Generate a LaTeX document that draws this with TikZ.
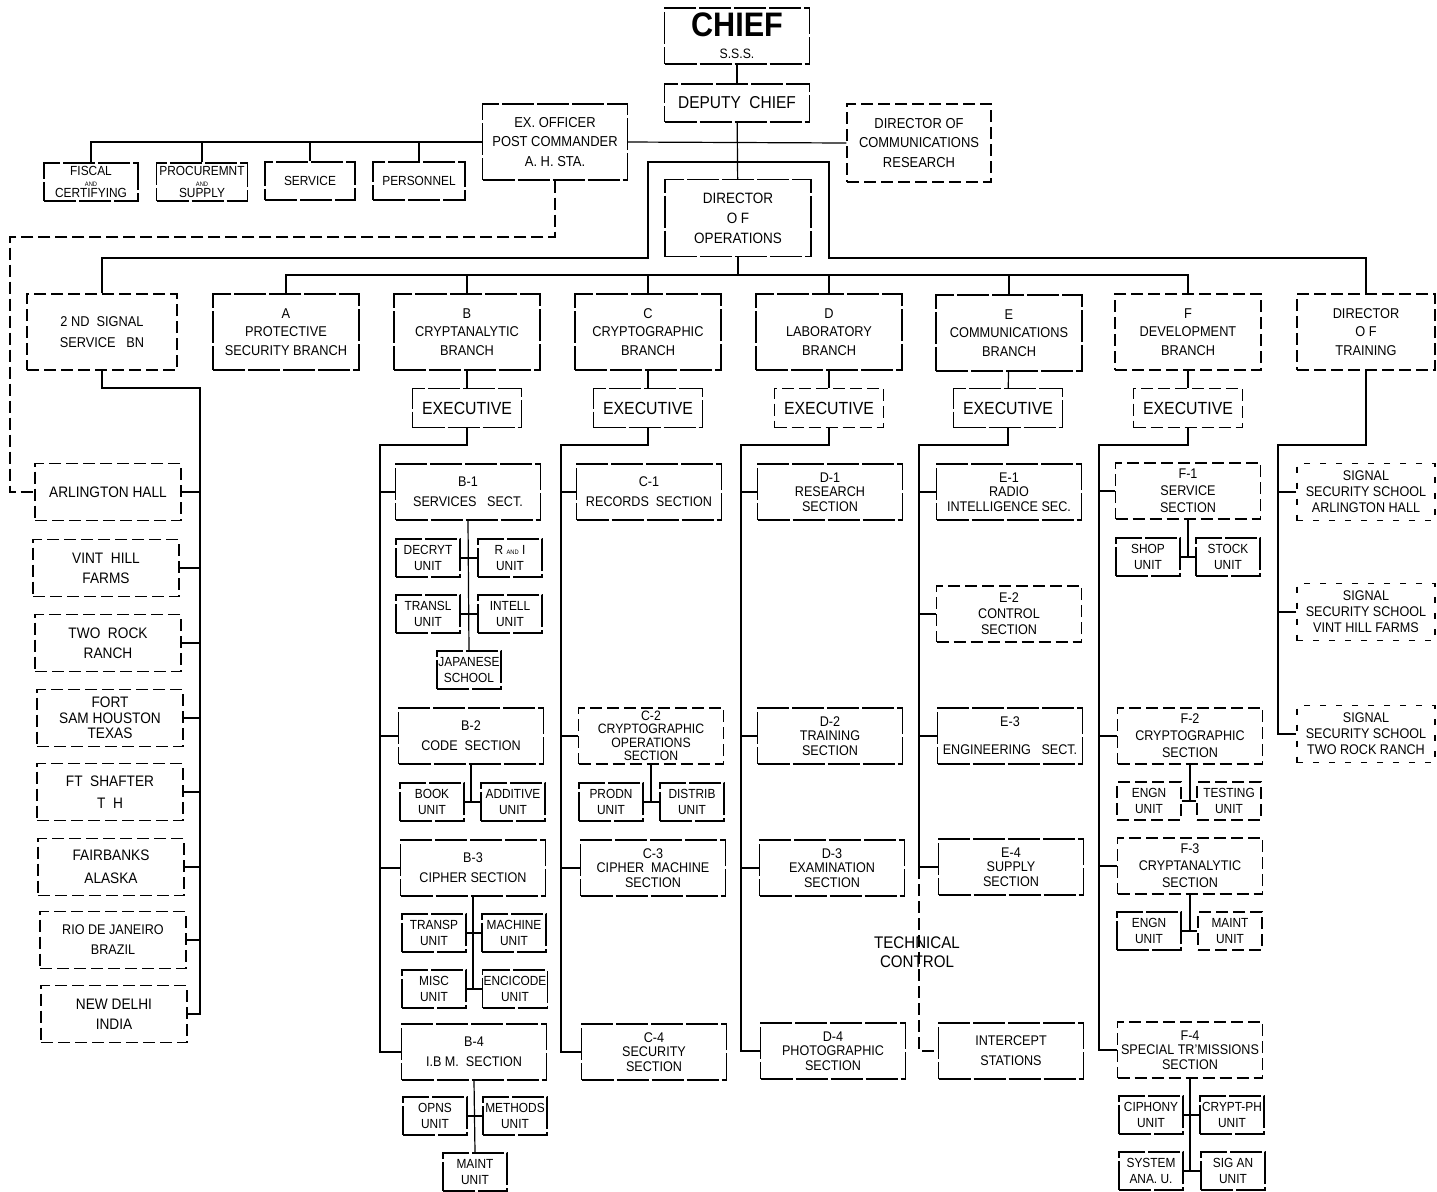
\documentclass[tikz,border=0pt]{standalone}
\usepackage{fontspec}
\setmainfont{Liberation Sans}[FakeStretch=0.9]
\newcommand{\tand}{{\fontsize{3.2}{3.2}\selectfont AND}}
\begin{document}
\begin{tikzpicture}[x=0.5pt,y=-0.5pt,line width=0.6pt,
  box/.style={draw,dash pattern=on 16pt off 1.5pt,align=center,inner sep=0.5pt},
  loose/.style={dash pattern=on 6pt off 2.5pt},
  faint/.style={dash pattern=on 3pt off 5pt},
  topbox/.style={box,minimum width=46pt,minimum height=19pt,font=\fontsize{6.6}{5.4}\selectfont},
  branch/.style={box,minimum width=73pt,minimum height=38pt,font=\fontsize{7.1}{9.2}\selectfont},
  exec/.style={box,minimum width=54.5pt,minimum height=19.5pt,font=\fontsize{8.8}{10}\selectfont},
  sect/.style={box,minimum width=72.5pt,minimum height=28pt,font=\fontsize{7}{10}\selectfont},
  sectt/.style={sect,font=\fontsize{7}{7.3}\selectfont},
  unit/.style={box,minimum width=32pt,minimum height=19pt,font=\fontsize{6.6}{8}\selectfont},
  site/.style={box,loose,minimum width=73pt,minimum height=28.5pt,font=\fontsize{7.6}{10}\selectfont},
  school/.style={box,faint,minimum width=69pt,minimum height=28.5pt,font=\fontsize{7}{8}\selectfont}]
\useasboundingbox (0,0) rectangle (1437,1191);

% head office
\node[box,minimum width=72.5pt,minimum height=28pt,inner sep=0pt] (chief) at (737,36)
  {{\fontsize{17}{16}\selectfont\bfseries CHIEF}\\[-1pt]{\fontsize{6.8}{7}\selectfont S.S.S.}};
\node[box,minimum width=72.5pt,minimum height=19pt,font=\fontsize{8.6}{9}\selectfont] (dep) at (737,103) {DEPUTY\ \ CHIEF};
\node[box,minimum width=72.5pt,minimum height=38pt,font=\fontsize{7.2}{9.7}\selectfont] (exo) at (555,142) {EX.\ OFFICER\\POST COMMANDER\\A.\ H.\ STA.};
\node[box,loose,minimum width=72pt,minimum height=39pt,font=\fontsize{7.2}{9.7}\selectfont] (dcr) at (919,143) {DIRECTOR OF\\COMMUNICATIONS\\RESEARCH};
\node[topbox,minimum width=47pt] (fisc) at (91,182) {FISCAL\\\tand\\CERTIFYING};
\node[topbox,minimum width=45.5pt] (proc) at (202,182) {PROCUREMNT\\\tand\\SUPPLY};
\node[topbox,minimum width=45pt] (serv) at (310,181) {SERVICE};
\node[topbox] (pers) at (419,181) {PERSONNEL};
\node[box,minimum width=73pt,minimum height=38.5pt,font=\fontsize{7.5}{10}\selectfont] (dops) at (738,218) {DIRECTOR\\O F\\OPERATIONS};

% branches
\node[branch,loose,minimum width=75pt,font=\fontsize{7.1}{10.5}\selectfont] (sig) at (102,332) {2 ND\ \ SIGNAL\\SERVICE\ \ \ BN};
\node[branch] (brA) at (286,332) {A\\PROTECTIVE\\SECURITY BRANCH};
\node[branch] (brB) at (467,332) {B\\CRYPTANALYTIC\\BRANCH};
\node[branch] (brC) at (648,332) {C\\CRYPTOGRAPHIC\\BRANCH};
\node[branch] (brD) at (829,332) {D\\LABORATORY\\BRANCH};
\node[branch] (brE) at (1009,333) {E\\COMMUNICATIONS\\BRANCH};
\node[branch,loose] (brF) at (1188,332) {F\\DEVELOPMENT\\BRANCH};
\node[branch,loose,minimum width=69pt] (dtr) at (1366,332) {DIRECTOR\\O F\\TRAINING};

\node[exec] (exB) at (467,408) {EXECUTIVE};
\node[exec] (exC) at (648,408) {EXECUTIVE};
\node[exec,loose] (exD) at (829,408) {EXECUTIVE};
\node[exec] (exE) at (1008,408) {EXECUTIVE};
\node[exec,loose] (exF) at (1188,408) {EXECUTIVE};

% stations
\node[site] (arl) at (108,492) {ARLINGTON HALL};
\node[site] (vint) at (106,568) {VINT\ \ HILL\\FARMS};
\node[site] (twor) at (108,643) {TWO\ \ ROCK\\RANCH};
\node[site,font=\fontsize{7.6}{7.7}\selectfont] (fsam) at (110,718) {FORT\\SAM HOUSTON\\TEXAS};
\node[site,font=\fontsize{7.6}{11}\selectfont] (shaf) at (110,792) {FT\ \ SHAFTER\\T\ \ H};
\node[site,font=\fontsize{7.6}{11.5}\selectfont] (fair) at (111,867) {FAIRBANKS\\ALASKA};
\node[site,font=\fontsize{7}{10}\selectfont] (rio) at (113,940) {RIO DE JANEIRO\\BRAZIL};
\node[site] (delhi) at (114,1014) {NEW DELHI\\INDIA};

% B sections
\node[sect] (b1) at (468,492) {B-1\\SERVICES\ \ \ SECT.};
\node[unit] (decryt) at (428,558) {DECRYT\\UNIT};
\node[unit] (randi) at (510,558) {R \tand\ I\\UNIT};
\node[unit] (transl) at (428,614) {TRANSL\\UNIT};
\node[unit] (intell) at (510,614) {INTELL\\UNIT};
\node[unit] (japsch) at (469,670) {JAPANESE\\SCHOOL};
\node[sect] (b2) at (471,736) {B-2\\CODE\ \ SECTION};
\node[unit] (book) at (432,802) {BOOK\\UNIT};
\node[unit] (addv) at (513,802) {ADDITIVE\\UNIT};
\node[sect] (b3) at (473,868) {B-3\\CIPHER\ SECTION};
\node[unit] (transp) at (434,933) {TRANSP\\UNIT};
\node[unit] (mach) at (514,933) {MACHINE\\UNIT};
\node[unit] (misc) at (434,989) {MISC\\UNIT};
\node[unit] (enci) at (515,989) {ENCICODE\\UNIT};
\node[sect] (b4) at (474,1052) {B-4\\I.B M.\ \ SECTION};
\node[unit] (opns) at (435,1116) {OPNS\\UNIT};
\node[unit] (meth) at (515,1116) {METHODS\\UNIT};
\node[unit] (bmaint) at (475,1172) {MAINT\\UNIT};

% C sections
\node[sect] (c1) at (649,492) {C-1\\RECORDS\ \ SECTION};
\node[sectt,loose,font=\fontsize{6.8}{6.7}\selectfont] (c2) at (651,736) {C-2\\CRYPTOGRAPHIC\\OPERATIONS\\SECTION};
\node[unit] (prodn) at (611,802) {PRODN\\UNIT};
\node[unit] (distr) at (692,802) {DISTRIB\\UNIT};
\node[sectt] (c3) at (653,868) {C-3\\CIPHER\ \ MACHINE\\SECTION};
\node[sectt] (c4) at (654,1052) {C-4\\SECURITY\\SECTION};

% D sections
\node[sectt] (d1) at (830,492) {D-1\\RESEARCH\\SECTION};
\node[sectt] (d2) at (830,736) {D-2\\TRAINING\\SECTION};
\node[sectt] (d3) at (832,868) {D-3\\EXAMINATION\\SECTION};
\node[sectt] (d4) at (833,1051) {D-4\\PHOTOGRAPHIC\\SECTION};

% E sections
\node[sectt] (e1) at (1009,492) {E-1\\RADIO\\INTELLIGENCE SEC.};
\node[sectt,loose,font=\fontsize{7}{8}\selectfont] (e2) at (1009,614) {E-2\\CONTROL\\SECTION};
\node[sect,font=\fontsize{7}{14}\selectfont] (e3) at (1010,736) {E-3\\ENGINEERING\ \ \ SECT.};
\node[sectt] (e4) at (1011,867) {E-4\\SUPPLY\\SECTION};
\node[sect] (icpt) at (1011,1051) {INTERCEPT\\STATIONS};
\node[font=\fontsize{8.4}{9.5}\selectfont,align=center,inner sep=0pt] (tech) at (917,952) {TECHNICAL\\CONTROL};

% F sections
\node[sectt,loose,font=\fontsize{7}{8.5}\selectfont] (f1) at (1188,491) {F-1\\SERVICE\\SECTION};
\node[unit] (shop) at (1148,557) {SHOP\\UNIT};
\node[unit] (stock) at (1228,557) {STOCK\\UNIT};
\node[sectt,loose,font=\fontsize{7}{8.5}\selectfont] (f2) at (1190,736) {F-2\\CRYPTOGRAPHIC\\SECTION};
\node[unit,loose] (f2engn) at (1149,801) {ENGN\\UNIT};
\node[unit,loose] (test) at (1229,801) {TESTING\\UNIT};
\node[sectt,loose,font=\fontsize{7}{8.5}\selectfont] (f3) at (1190,866) {F-3\\CRYPTANALYTIC\\SECTION};
\node[unit] (f3engn) at (1149,931) {ENGN\\UNIT};
\node[unit,loose] (f3maint) at (1230,931) {MAINT\\UNIT};
\node[sectt,loose] (f4) at (1190,1050) {F-4\\SPECIAL TR'MISSIONS\\SECTION};
\node[unit] (ciph) at (1151,1115) {CIPHONY\\UNIT};
\node[unit] (cryph) at (1232,1115) {CRYPT-PH\\UNIT};
\node[unit] (sysan) at (1151,1171) {SYSTEM\\ANA.\ U.};
\node[unit] (sigan) at (1233,1171) {SIG\ AN\\UNIT};

% schools
\node[school] (sss1) at (1366,492) {SIGNAL\\SECURITY SCHOOL\\ARLINGTON HALL};
\node[school] (sss2) at (1366,612) {SIGNAL\\SECURITY SCHOOL\\VINT HILL FARMS};
\node[school] (sss3) at (1366,734) {SIGNAL\\SECURITY SCHOOL\\TWO ROCK RANCH};

% connectors
\coordinate (dashc) at (10,237);
\coordinate (frLb) at (648,258);
\coordinate (frLt) at (648,162);
\coordinate (frRt) at (829,162);
\coordinate (frRb) at (829,258);
\coordinate (brbar) at (738,275);
\coordinate (spS) at (200,388);
\coordinate (spB) at (380,445);
\coordinate (spC) at (561,445);
\coordinate (spD) at (741,445);
\coordinate (spE) at (919,445);
\coordinate (spF) at (1099,445);
\coordinate (spT) at (1278,445);

\draw (chief) -- (dep);
\draw (dep) -- (dops);
\draw (fisc.north) |- (exo.west);
\foreach \n in {proc,serv,pers} \draw (\n.north) -- (\n.north |- exo.west);
\draw (exo.east) -- (dcr.west);
\draw[loose] (exo.south) |- (dashc) |- (arl.west);
\draw (sig.north) |- (frLb) -- (frLt) -- (frRt) -- (frRb) -| (dtr.north);
\draw (dops) -- (brbar);
\draw (brA.north) |- (brbar) -| (brF.north);
\foreach \n in {brB,brC,brD,brE} \draw (\n.north) -- (\n.north |- brbar);
\foreach \b in {B,C,D,E,F} \draw (br\b) -- (ex\b);

\draw (sig.south) |- (spS) |- (delhi.east);
\foreach \n in {arl,vint,twor,fsam,shaf,fair,rio} \draw (\n.east) -- (\n.east -| spS);
\draw (exB.south) |- (spB) |- (b4.west);
\foreach \n in {b1,b2,b3} \draw (\n.west) -- (\n.west -| spB);
\draw (exC.south) |- (spC) |- (c4.west);
\foreach \n in {c1,c2,c3} \draw (\n.west) -- (\n.west -| spC);
\draw (exD.south) |- (spD) |- (d4.west);
\foreach \n in {d1,d2,d3} \draw (\n.west) -- (\n.west -| spD);
\draw (exE.south) |- (spE) |- (e4.west);
\foreach \n in {e1,e2,e3} \draw (\n.west) -- (\n.west -| spE);
\draw[loose] (e4.west -| spE) |- (icpt.west);
\draw (exF.south) |- (spF) |- (f4.west);
\foreach \n in {f1,f2,f3} \draw (\n.west) -- (\n.west -| spF);
\draw (dtr.south) |- (spT) |- (sss3.west);
\foreach \n in {sss1,sss2} \draw (\n.west) -- (\n.west -| spT);

\draw (b1.south) -- (japsch.north);
\draw (b2.south) -- (b2.south |- book.east);
\draw (b3.south) -- (b3.south |- misc.east);
\draw (b4.south) -- (bmaint.north);
\draw (c2.south) -- (c2.south |- prodn.east);
\draw (f1.south) -- (f1.south |- shop.east);
\draw (f2.south) -- (f2.south |- f2engn.east);
\draw (f3.south) -- (f3.south |- f3engn.east);
\draw (f4.south) -- (f4.south |- sysan.east);
\foreach \l/\r in {decryt/randi,transl/intell,book/addv,transp/mach,misc/enci,opns/meth,
  prodn/distr,shop/stock,f2engn/test,f3engn/f3maint,ciph/cryph,sysan/sigan}
  \draw (\l.east) -- (\r.west);
\end{tikzpicture}
\end{document}
